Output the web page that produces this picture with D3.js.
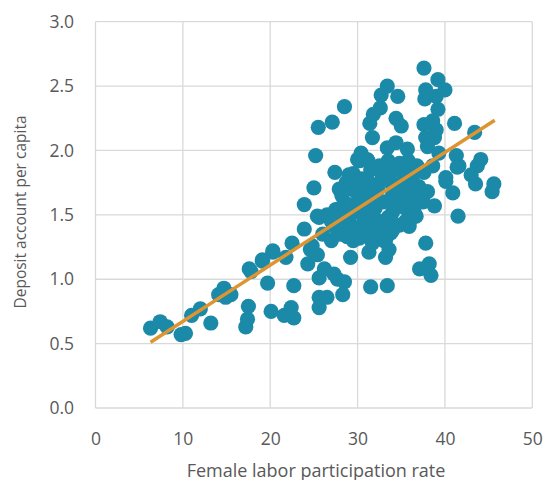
<!DOCTYPE html>
<html><head><meta charset="utf-8">
<script src="https://cdn.jsdelivr.net/npm/d3@7"></script>
<style>body{margin:0;background:#fff}svg{display:block}</style>
</head><body>
<svg id="c" width="544" height="480"></svg>
<script>
// Female labor participation rate (x)
const xValues = [
6.3,7.4,8.2,9.8,10.3,11.0,12.0,13.2,14.1,14.7,15.5,14.9,17.5,17.4,17.2,17.8,19.1,20.3,19.7,
20.1,21.6,22.4,22.7,22.7,21.8,22.5,24.8,24.3,25.6,25.6,25.6,
33.4,32.7,34.6,28.5,27.1,25.5,32.6,31.8,31.4,34.4,35.0,31.7,25.2,27.4,25.0,30.4,31.1,33.4,34.4,30.0,29.0,
37.6,39.2,40.0,37.8,37.7,39.0,39.2,41.1,43.4,37.6,38.6,39.0,37.8,38.8,38.0,41.3,41.6,44.1,43.7,43.0,43.5,45.6,45.4,40.9,40.1,
41.5,38.8,36.5,35.9,37.8,37.1,38.2,38.4,40.1,38.6,39.3,37.6,35.7,35.1,36.2,37.0,35.1,41.4,
33.4,31.5,29.2,31.3,33.2,33.6,33.0,31.7,35.9,36.7,27.7,
23.9,25.4,23.9,25.4,26.2,27.3,28.5,28.3,26.5,
25.6,20.3,19.1,17.6,24.6,27.9,28.7,27.5,27.9,30.2,31.2,27.9,
28.0,28.5,29.0,29.5,30.0,30.5,31.0,31.5,32.0,32.5,33.0,33.5,34.0,34.5,35.0,35.5,36.0,36.5,37.0,
28.2,28.8,29.3,29.8,30.3,30.8,31.3,31.8,32.3,32.8,33.3,33.8,34.3,34.8,35.3,35.8,36.3,36.8,
27.5,28.0,28.8,29.5,30.2,31.0,31.8,32.5,33.2,34.0,34.8,35.5,
29.0,30.0,31.2,32.0,33.0,34.0,35.0,36.0,
29.5,30.5,31.5,32.5,33.5,30.0,26.5,27.0,26.0,27.0,28.5,36.5,37.5,38.0,31.3,33.8,32.2,34.6
];
// Deposit account per capita (y)
const yValues = [
0.62,0.67,0.63,0.57,0.58,0.72,0.77,0.66,0.88,0.93,0.88,0.86,0.79,0.69,0.63,1.06,1.14,1.21,0.97,
0.75,0.72,0.78,0.70,0.95,1.17,1.28,1.26,1.12,1.01,0.86,0.78,
2.50,2.43,2.42,2.34,2.22,2.18,2.33,2.28,2.21,2.25,2.19,2.10,1.96,1.83,1.71,1.98,1.93,2.02,2.06,1.93,1.81,
2.64,2.55,2.47,2.47,2.40,2.42,2.32,2.21,2.14,2.20,2.23,2.16,2.10,2.10,2.03,1.96,1.88,1.93,1.88,1.81,1.74,1.74,1.68,1.67,1.76,
1.49,1.57,1.49,1.41,1.28,1.08,1.12,1.03,1.79,1.88,1.98,1.83,2.01,1.75,1.70,1.65,1.59,1.87,
0.95,0.94,1.17,1.21,1.17,1.23,1.30,1.28,1.43,1.49,1.00,
1.58,1.49,1.39,1.19,1.08,1.04,0.98,0.88,0.86,
1.48,1.22,1.15,1.08,1.23,1.70,1.75,1.54,1.47,1.92,1.92,1.53,
1.55,1.50,1.45,1.40,1.38,1.42,1.46,1.50,1.55,1.45,1.40,1.48,1.52,1.58,1.62,1.55,1.60,1.68,1.72,
1.65,1.70,1.75,1.68,1.62,1.70,1.75,1.65,1.70,1.78,1.82,1.75,1.85,1.90,1.85,1.92,1.80,1.88,
1.40,1.35,1.33,1.30,1.32,1.35,1.38,1.33,1.30,1.38,1.42,1.45,
1.58,1.52,1.58,1.62,1.60,1.65,1.70,1.72,
1.82,1.78,1.85,1.88,1.92,1.72,1.50,1.45,1.35,1.30,1.42,1.52,1.60,1.68,1.34,1.36,1.60,1.68
];
// Linear trend line endpoints (as drawn)
const trendX = [6.3, 45.7];
const trendY = [0.51, 2.235];
const xTicks = [0, 10, 20, 30, 40, 50];
const yTicks = [0.0, 0.5, 1.0, 1.5, 2.0, 2.5, 3.0];
const xTitle = "Female labor participation rate";
const yTitle = "Deposit account per capita";

const svg = d3.select("#c");
const pLeft = 95.5, pRight = 532.3, pTop = 21.7, pBottom = 408;
const x = d3.scaleLinear().domain([0, 50]).range([pLeft, pRight]);
const y = d3.scaleLinear().domain([0, 3]).range([pBottom, pTop]);
const grid = "#d9d9d9", txt = "#595959", font = "'Open Sans', sans-serif";

// gridlines
svg.append("g").selectAll("line").data(yTicks).join("line")
  .attr("x1", pLeft).attr("x2", pRight).attr("y1", d => y(d)).attr("y2", d => y(d))
  .attr("stroke", grid).attr("stroke-width", 1.3);
svg.append("g").selectAll("line").data(xTicks).join("line")
  .attr("y1", pTop).attr("y2", pBottom).attr("x1", d => x(d)).attr("x2", d => x(d))
  .attr("stroke", grid).attr("stroke-width", 1.3);

// axes (labels only)
const yAxis = svg.append("g").attr("transform", `translate(${pLeft},0)`)
  .call(d3.axisLeft(y).tickValues(yTicks).tickFormat(d3.format(".1f")).tickSize(0).tickPadding(21.5));
const xAxis = svg.append("g").attr("transform", `translate(0,${pBottom})`)
  .call(d3.axisBottom(x).tickValues(xTicks).tickFormat(d3.format("d")).tickSize(0));
[yAxis, xAxis].forEach(a => {
  a.select(".domain").remove();
  a.selectAll("text").attr("fill", txt).style("font-family", font).style("font-size", "17.5px");
});
xAxis.selectAll("text").attr("y", 31).attr("dy", "0.35em");

// points
const pts = xValues.map((v, i) => ({x: v, y: yValues[i]}));
svg.append("g").selectAll("circle").data(pts).join("circle")
  .attr("cx", d => x(d.x)).attr("cy", d => y(d.y)).attr("r", 7.6)
  .attr("fill", "#1b8aa8");

// trend line
const tr = trendX.map((v, i) => ({x: v, y: trendY[i]}));
svg.append("path").datum(tr)
  .attr("d", d3.line().x(d => x(d.x)).y(d => y(d.y)))
  .attr("stroke", "#de9431").attr("stroke-width", 3.5).attr("fill", "none");

// titles
svg.append("text").attr("x", 316).attr("y", 476.5)
  .attr("text-anchor", "middle")
  .attr("fill", txt).style("font-family", font).style("font-size", "18px").text(xTitle);
svg.append("text").attr("transform", "translate(25.5,212) rotate(-90)")
  .attr("text-anchor", "middle")
  .attr("fill", txt).style("font-family", font).style("font-size", "15.5px").text(yTitle);
</script>
</body></html>
